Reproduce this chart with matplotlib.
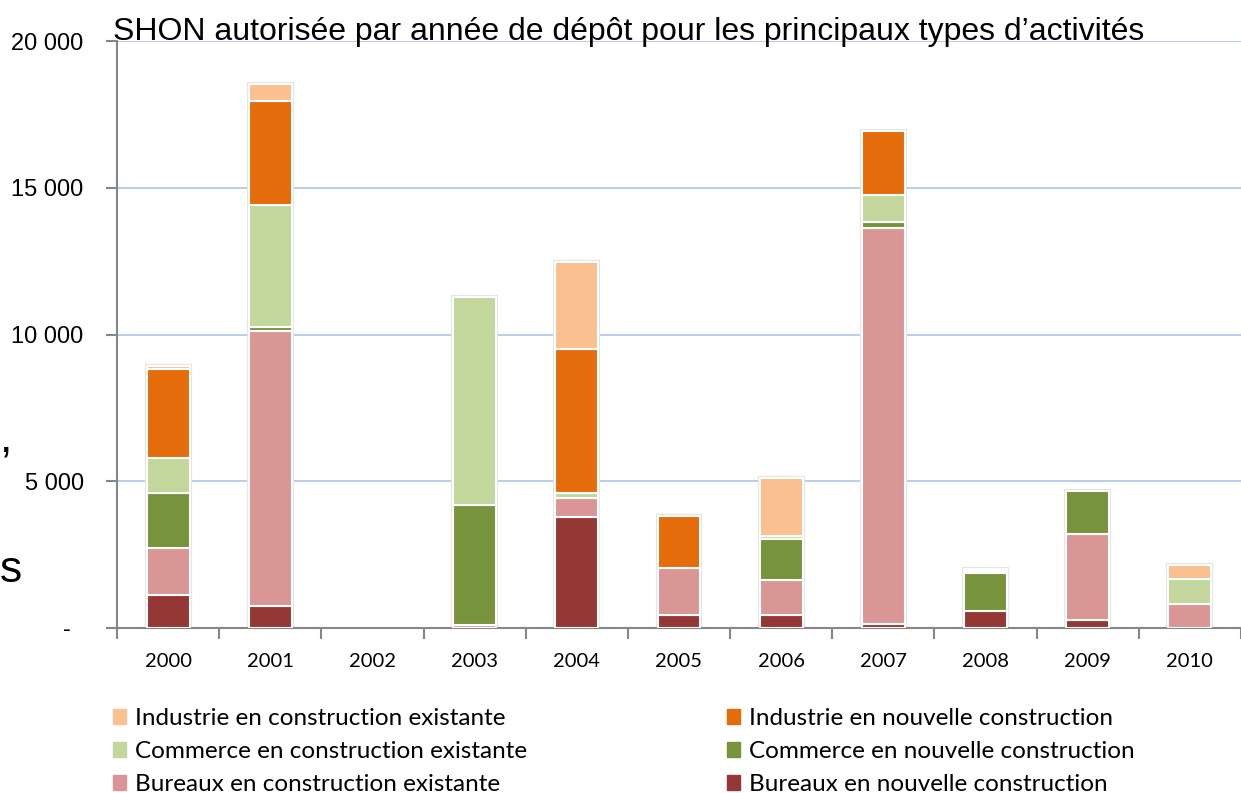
import numpy as np
import matplotlib
matplotlib.use("Agg")
import matplotlib.pyplot as plt
from matplotlib.patches import Patch
from matplotlib.ticker import FuncFormatter, FixedLocator

# SHON (m2) par année de dépôt
years = ["2000", "2001", "2002", "2003", "2004", "2005", "2006", "2007", "2008", "2009", "2010"]
bur_nouv = [1130, 760, 0, 0, 3790, 440, 440, 140, 580, 260, 0]
bur_exist = [1600, 9370, 0, 100, 640, 1610, 1190, 13500, 0, 2930, 830]
com_nouv = [1870, 110, 0, 4080, 0, 0, 1400, 180, 1290, 1470, 0]
com_exist = [1200, 4180, 0, 7110, 180, 0, 100, 930, 70, 0, 830]
ind_nouv = [3030, 3520, 0, 0, 4880, 1770, 0, 2190, 0, 0, 0]
ind_exist = [90, 610, 0, 0, 2990, 0, 1970, 0, 80, 0, 500]

series = [
    ("Bureaux en nouvelle construction", bur_nouv, "#953735"),
    ("Bureaux en construction existante", bur_exist, "#D99694"),
    ("Commerce en nouvelle construction", com_nouv, "#77933C"),
    ("Commerce en construction existante", com_exist, "#C3D69B"),
    ("Industrie en nouvelle construction", ind_nouv, "#E46C0A"),
    ("Industrie en construction existante", ind_exist, "#FAC090"),
]

W, H = 1241, 793
fig = plt.figure(figsize=(W / 100, H / 100), dpi=100)
ax = fig.add_axes([117 / W, 1 - 628 / H, 1 - 117 / W, (628 - 41) / H])

x = np.arange(len(years))
width = 0.42

# faint shadow behind each stack (skip empty years)
totals = np.sum([s[1] for s in series], axis=0)
nz = totals > 0
ax.bar(x[nz], totals[nz], width, color="none", edgecolor="#e4e4e4", linewidth=3, zorder=2)

bottom = np.zeros(len(years))
for label, vals, col in series:
    vals = np.array(vals)
    keep = vals > 0
    ax.bar(x[keep], vals[keep], width, bottom=bottom[keep], color=col,
           edgecolor="white", linewidth=1.5, label=label, zorder=3)
    bottom += vals

ax.set_ylim(0, 20000)
ax.set_xlim(-0.5, -0.5 + (W - 116) / 104.5)

# grid
for v in [5000, 10000, 15000, 20000]:
    ax.axhline(v, color="#B4C8E6", lw=1.3, zorder=1)

for s in ["top", "right"]:
    ax.spines[s].set_visible(False)
for s in ["left", "bottom"]:
    ax.spines[s].set_color("#868686")
    ax.spines[s].set_linewidth(1.5)

ax.yaxis.set_major_locator(FixedLocator([0, 5000, 10000, 15000, 20000]))
ax.yaxis.set_major_formatter(FuncFormatter(
    lambda v, p: "-  " if v == 0 else f"{int(v):,}".replace(",", " ")))
ax.tick_params(axis="y", direction="out", length=8, width=1.5, color="#868686",
               labelsize=17, pad=16)
for t in ax.get_yticklabels():
    t.set_fontfamily("Liberation Sans")

ax.set_xticks(x)
ax.set_xticklabels(years, fontfamily="Lato", fontsize=14.5)
ax.set_xticks(np.arange(-0.5, len(years) + 0.5, 1), minor=True)
ax.tick_params(axis="x", which="major", length=0, pad=18)
ax.tick_params(axis="x", which="minor", direction="out", length=8, width=1.5,
               color="#868686")

fig.text(113 / W, 1 - 40 / H,
         "SHON autorisée par année de dépôt pour les principaux types d’activités",
         fontsize=23, fontfamily="Liberation Sans", va="baseline", ha="left")

# fragments of an axis label at the left edge
fig.text(0, 1 - 440 / H, ",", fontsize=32, fontfamily="Liberation Sans",
         ha="left", va="center")
fig.text(0, 1 - 570 / H, "s", fontsize=32, fontfamily="Liberation Sans",
         ha="left", va="center")

# legend in two columns
handles = {lab: Patch(color=col) for lab, _, col in series}
left_col = ["Industrie en construction existante", "Commerce en construction existante",
            "Bureaux en construction existante"]
right_col = ["Industrie en nouvelle construction", "Commerce en nouvelle construction",
             "Bureaux en nouvelle construction"]
for names, xpos in [(left_col, 113), (right_col, 727)]:
    fig.legend([handles[n] for n in names], names, loc="upper left",
               bbox_to_anchor=(xpos / W, 1 - 708 / H), frameon=False,
               prop={"family": "Lato", "size": 17.5}, handlelength=0.55,
               handleheight=0.55, handletextpad=0.35, labelspacing=0.5,
               borderpad=0, borderaxespad=0)

fig.savefig("out.png", dpi=100)
